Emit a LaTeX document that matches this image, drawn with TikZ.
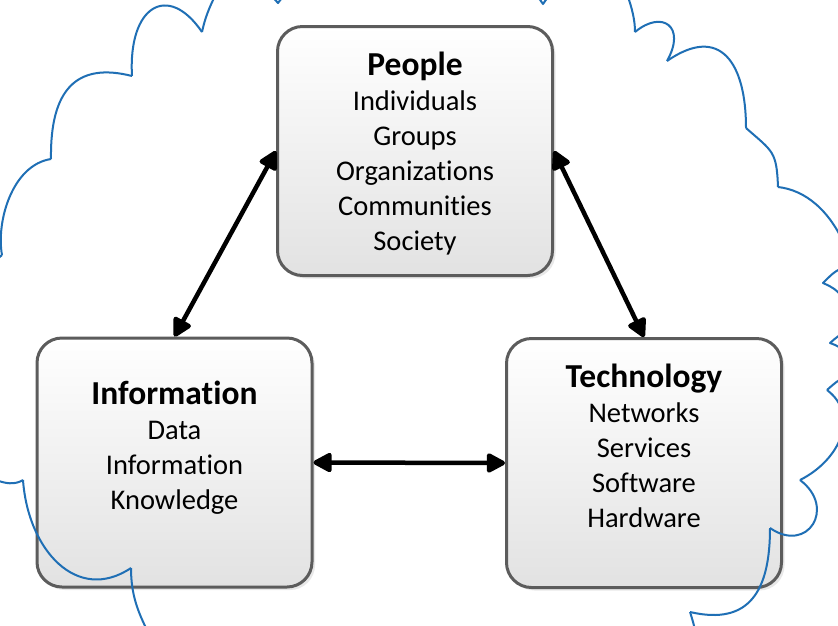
\documentclass[tikz,border=0pt]{standalone}
\usepackage{fontspec}
\setmainfont{Carlito}[Ligatures={NoCommon,NoContextual}]
\usetikzlibrary{arrows.meta,shadows}
\definecolor{cloudblue}{RGB}{31,111,181}
\definecolor{boxborder}{RGB}{92,92,92}
\definecolor{boxbottom}{RGB}{226,226,226}
\newcommand{\boxtitle}[1]{{\fontsize{33.5}{35}\selectfont\bfseries #1}}
\begin{document}
\begin{tikzpicture}[x=1pt,y=-1pt,
  infobox/.style={rounded corners=25pt, draw=boxborder, line width=3pt,
    top color=white, bottom color=boxbottom,
    drop shadow={shadow xshift=3pt, shadow yshift=-3pt, opacity=0.18, fill=gray},
    minimum width=275pt, minimum height=249pt, inner sep=0pt},
  boxtext/.style={align=center, anchor=north, inner sep=0pt,
    font=\fontsize{28.5}{35}\selectfont},
  link/.style={line width=4.5pt,
    {Triangle[length=21pt,width=21pt,round]}-{Triangle[length=21pt,width=21pt,round]}},
  cloudline/.style={draw=cloudblue, line width=2pt, line join=round}]
\useasboundingbox (0,0) rectangle (838,625);
\fill[white] (0,0) rectangle (838,625);

% boxes
\node[infobox] (people) at (415,151) {};
\node[infobox] (info) at (174.5,462.5) {};
\node[infobox] (tech) at (644,463) {};

% texts
\node[boxtext] (peopletxt) at ([yshift=-26.5pt]people.north)
  {\boxtitle{People}\\Individuals\\Groups\\Organizations\\Communities\\Society};
\node[boxtext] (infotxt) at ([yshift=-44pt]info.north)
  {\boxtitle{Information}\\Data\\Information\\Knowledge};
\node[boxtext] (techtxt) at ([yshift=-26.5pt]tech.north)
  {\boxtitle{Technology}\\Networks\\Services\\Software\\Hardware};

% connectors
\draw[link] (people.west) -- (info.north);
\draw[link] (people.east) -- (tech.north);
\draw[link] (info.east) -- (tech.west);

% cloud
\begin{scope}
\clip (0,0) rectangle (838,625);
\draw[cloudline] (131,568) .. controls (131,595) and (138,612) .. (148,632);
\draw[cloudline] (131,568) .. controls (77,604) and (28,550) .. (23,480);
\draw[cloudline] (23,480) .. controls (15,485) and (5,484) .. (-6,479);
\draw[cloudline] (2,255) -- (-6,262);
\draw[cloudline] (51,159) .. controls (12,165) and (-4,222) .. (2,255);
\draw[cloudline] (51,159) .. controls (50,89) and (77,62) .. (132,76);
\draw[cloudline] (132,76) .. controls (128,6) and (168,-18) .. (202,32);
\draw[cloudline] (202,32) .. controls (205,18) and (209,8) .. (216,-6);
\draw[cloudline] (270,-6) .. controls (274,-1) .. (278,3) .. controls (281,-1) .. (286,-6);
\draw[cloudline] (536,-6) .. controls (540,-1) .. (543,4) .. controls (546,-1) .. (550,-6);
\draw[cloudline] (627,-6) .. controls (632,8) and (635,20) .. (635,32);
\draw[cloudline] (635,32) .. controls (662,9.6) and (686.6,26.2) .. (667,61);
\draw[cloudline] (667,61) .. controls (720.3,24) and (746,63) .. (746,128);
\draw[cloudline] (746,128) .. controls (773,151.8) and (776.6,151) .. (778,187);
\draw[cloudline] (778,187) .. controls (805,190) and (830,210) .. (846,248);
\draw[cloudline] (846,266) .. controls (834,272) .. (823,283) .. controls (834,288) .. (846,300);
\draw[cloudline] (846,332) .. controls (838,336) .. (830,343) .. controls (838,346) .. (846,353);
\draw[cloudline] (846,376) .. controls (836,382) .. (827,390);
\draw[cloudline] (827,390) .. controls (860,415) and (840,460) .. (800,480);
\draw[cloudline] (800,480) .. controls (836.8,507.6) and (807.7,554.2) .. (770,528);
\draw[cloudline] (770,528) .. controls (770,590) and (750,626) .. (690,612);
\draw[cloudline] (690,612) .. controls (692,618) and (694,625) .. (696,634);
\end{scope}
\end{tikzpicture}
\end{document}
